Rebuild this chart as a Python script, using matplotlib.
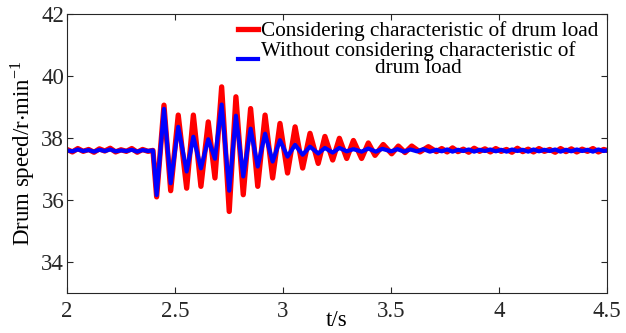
import numpy as np
import matplotlib
matplotlib.use('Agg')
import matplotlib.pyplot as plt

plt.rcParams['font.family'] = ['Liberation Serif', 'DejaVu Serif']
plt.rcParams['mathtext.fontset'] = 'stix'

# Red: considering characteristic of drum load (time in s, speed in r/min)
red_t = [2.000, 2.025, 2.050, 2.075, 2.100, 2.125, 2.150, 2.175, 2.200, 2.225,
         2.250, 2.275, 2.300, 2.325, 2.350, 2.375, 2.398,
         2.415, 2.449, 2.480, 2.515, 2.554, 2.585, 2.620, 2.654, 2.685, 2.716,
         2.751, 2.782, 2.816, 2.850, 2.883, 2.917, 2.952, 2.986, 3.021, 3.056,
         3.091, 3.125, 3.163, 3.194, 3.230, 3.261, 3.295, 3.326, 3.364, 3.395,
         3.426, 3.464, 3.503, 3.534, 3.565, 3.596, 3.634, 3.673, 3.710,
         3.735, 3.760, 3.785, 3.810, 3.835, 3.860, 3.885, 3.910, 3.935, 3.960,
         3.985, 4.010, 4.035, 4.060, 4.085, 4.110, 4.135, 4.160, 4.185, 4.210,
         4.235, 4.260, 4.285, 4.310, 4.335, 4.360, 4.385, 4.410, 4.435, 4.460,
         4.485, 4.500]
red_v = [37.63, 37.55, 37.66, 37.57, 37.63, 37.54, 37.65, 37.58, 37.67, 37.55,
         37.62, 37.57, 37.66, 37.54, 37.63, 37.57, 37.60,
         36.10, 39.06, 36.30, 38.74, 36.38, 38.74, 36.44, 38.52, 36.71, 39.65,
         35.63, 39.33, 36.17, 38.95, 36.44, 38.74, 36.71, 38.47, 36.87, 38.36,
         37.03, 38.15, 37.18, 38.05, 37.29, 37.99, 37.34, 37.92, 37.34, 37.84,
         37.44, 37.79, 37.49, 37.74, 37.53, 37.74, 37.55, 37.72, 37.56,
         37.66, 37.55, 37.68, 37.56, 37.64, 37.54, 37.67, 37.57, 37.65, 37.55,
         37.66, 37.57, 37.63, 37.54, 37.67, 37.56, 37.64, 37.55, 37.66, 37.57,
         37.63, 37.54, 37.66, 37.56, 37.65, 37.55, 37.64, 37.57, 37.66, 37.55,
         37.63, 37.60]

# Blue: without considering characteristic of drum load
blue_t = [2.000, 2.025, 2.050, 2.075, 2.100, 2.125, 2.150, 2.175, 2.200, 2.225,
          2.250, 2.275, 2.300, 2.325, 2.350, 2.375, 2.398,
          2.415, 2.449, 2.480, 2.515, 2.554, 2.585, 2.620, 2.654, 2.685, 2.716,
          2.751, 2.782, 2.816, 2.850, 2.883, 2.917, 2.952, 2.986, 3.021, 3.056,
          3.091, 3.125, 3.163, 3.194, 3.230, 3.261, 3.295, 3.326, 3.364, 3.395,
          3.430, 3.460, 3.500, 3.530, 3.560, 3.590, 3.620, 3.650, 3.680, 3.710,
          3.735, 3.760, 3.785, 3.810, 3.835, 3.860, 3.885, 3.910, 3.935, 3.960,
          3.985, 4.010, 4.035, 4.060, 4.085, 4.110, 4.135, 4.160, 4.185, 4.210,
          4.235, 4.260, 4.285, 4.310, 4.335, 4.360, 4.385, 4.410, 4.435, 4.460,
          4.485, 4.500]
blue_v = [37.60, 37.57, 37.63, 37.58, 37.61, 37.56, 37.62, 37.58, 37.63, 37.57,
          37.60, 37.58, 37.62, 37.56, 37.61, 37.58, 37.60,
          36.16, 38.94, 36.54, 38.36, 36.92, 38.04, 37.02, 37.96, 37.33, 39.08,
          36.30, 38.72, 36.76, 38.30, 37.08, 38.14, 37.24, 37.93, 37.40, 37.78,
          37.46, 37.72, 37.50, 37.68, 37.53, 37.68, 37.57, 37.64, 37.56, 37.66,
          37.56, 37.65, 37.57, 37.64, 37.56, 37.63, 37.57, 37.64, 37.56, 37.62,
          37.57, 37.63, 37.56, 37.62, 37.58, 37.63, 37.56, 37.62, 37.58, 37.63,
          37.57, 37.62, 37.56, 37.63, 37.58, 37.62, 37.56, 37.63, 37.57, 37.62,
          37.58, 37.63, 37.56, 37.62, 37.57, 37.63, 37.58, 37.62, 37.56, 37.63,
          37.58, 37.60]

x_ticks = [2, 2.5, 3, 3.5, 4, 4.5]
y_ticks = [34, 36, 38, 40, 42]

fig = plt.figure(figsize=(6.26, 3.33), dpi=100)
ax = fig.add_axes([67 / 626, 1 - 293 / 333, 540 / 626, 279 / 333])

ax.plot(red_t, red_v, color='#ff0000', lw=3.8, solid_joinstyle='round',
        label='Considering characteristic of drum load')
ax.plot(blue_t, blue_v, color='#0000ff', lw=3.0, solid_joinstyle='round',
        label='Without considering characteristic of\ndrum load')

ax.set_xlim(2, 4.5)
ax.set_ylim(33, 42)
ax.set_xticks(x_ticks)
ax.set_xticklabels(['2', '2.5', '3', '3.5', '4', '4.5'])
ax.set_yticks(y_ticks)

grey = '#262626'
for s in ax.spines.values():
    s.set_color(grey)
    s.set_linewidth(0.8)
ax.tick_params(direction='in', top=True, right=True, length=4, width=0.8,
               colors=grey, labelsize=16.5)
ax.tick_params(axis='x', pad=6)
ax.tick_params(axis='y', pad=2)

ax.set_xlabel('t/s', fontsize=16.5, labelpad=-9)
ax.set_ylabel(r'Drum speed/r$\cdot$min$^{\mathregular{-1}}$', fontsize=16.5, labelpad=3)

leg = ax.legend(loc='upper right', bbox_to_anchor=(0.99, 0.985), frameon=False,
                fontsize=15.3, handlelength=0.95, handletextpad=0.15,
                labelspacing=0.0, borderaxespad=0.0, borderpad=0.15)
for t in leg.get_texts():
    t.set_multialignment('center')
    t.set_linespacing(0.85)

fig.savefig('out.png', dpi=100)
